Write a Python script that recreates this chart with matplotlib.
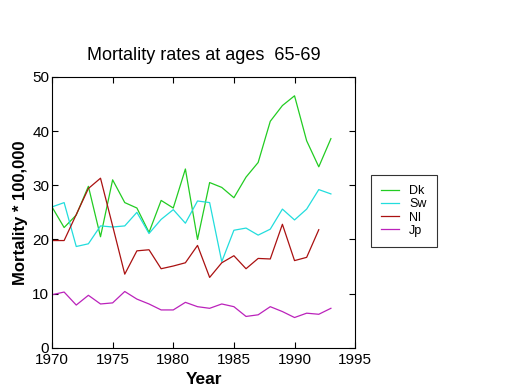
"""Mortality rates at ages 65-69 for four countries."""
import numpy as np
import matplotlib
matplotlib.use("Agg")
import matplotlib.pyplot as plt

plt.rcParams["font.family"] = ["Liberation Sans", "DejaVu Sans"]

years = np.arange(1970, 1994)
dk = [26.0, 22.2, 24.5, 29.8, 20.5, 31.0, 26.8, 25.8, 21.3, 27.2, 25.8, 33.0,
      20.0, 30.5, 29.6, 27.7, 31.5, 34.2, 41.8, 44.7, 46.5, 38.2, 33.4, 38.6]
sw = [26.0, 26.8, 18.7, 19.2, 22.5, 22.3, 22.5, 25.0, 21.1, 23.7, 25.5, 23.0,
      27.1, 26.8, 15.9, 21.7, 22.1, 20.8, 21.9, 25.6, 23.6, 25.6, 29.2, 28.4]
nl_years = np.arange(1970, 1993)
nl = [19.8, 19.8, 24.6, 29.4, 31.3, 22.5, 13.6, 17.9, 18.1, 14.6, 15.1, 15.7,
      18.9, 13.0, 15.7, 17.0, 14.6, 16.5, 16.4, 22.8, 16.1, 16.7, 21.8]
jp = [9.8, 10.3, 7.9, 9.7, 8.1, 8.3, 10.4, 9.0, 8.1, 7.0, 7.0, 8.4,
      7.6, 7.3, 8.1, 7.6, 5.8, 6.1, 7.6, 6.7, 5.6, 6.4, 6.2, 7.3]

fig = plt.figure(figsize=(5.2, 3.9), dpi=100)
ax = fig.add_axes([0.1, 0.108, 0.583, 0.695])

ax.plot(years, dk, color="#22cc22", lw=0.9, label="Dk")
ax.plot(years, sw, color="#22dddd", lw=0.9, label="Sw")
ax.plot(nl_years, nl, color="#aa1111", lw=0.9, label="Nl")
ax.plot(years, jp, color="#bb22bb", lw=0.9, label="Jp")

ax.set_xlim(1970, 1995)
ax.set_ylim(0, 50)
ax.set_xticks(np.arange(1970, 1996, 5))
ax.set_yticks(np.arange(0, 51, 10))
ax.tick_params(direction="in", top=True, right=True, labelsize=11, length=4)
ax.tick_params(axis="x", pad=4)
ax.tick_params(axis="y", pad=2)
ax.set_title("Mortality rates at ages  65-69", fontsize=13, pad=12)
ax.set_xlabel("Year", fontsize=12.5, fontweight="bold", labelpad=3)
ax.set_ylabel("Mortality * 100,000", fontsize=12, fontweight="bold", labelpad=3)

leg = ax.legend(loc="center left", bbox_to_anchor=(1.03, 0.505), fontsize=9,
                frameon=True, fancybox=False, edgecolor="black",
                handlelength=1.5, handletextpad=0.8, labelspacing=0.1,
                borderpad=0.8)
leg.get_frame().set_linewidth(0.8)

fig.savefig("out.png", dpi=100)
